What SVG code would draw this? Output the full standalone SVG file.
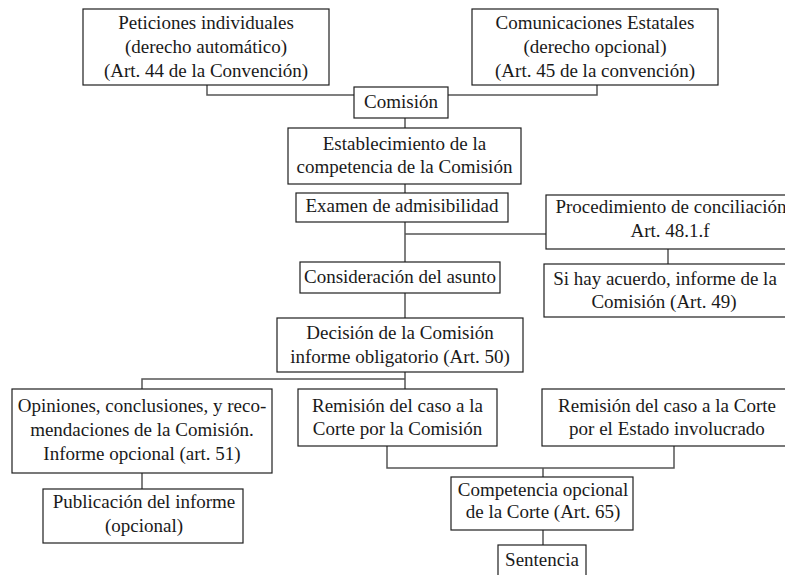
<svg xmlns="http://www.w3.org/2000/svg" width="785" height="575" viewBox="0 0 785 575" font-family="Liberation Serif, serif">
<style>
.box{fill:#fff;stroke:#1e1e1e;stroke-width:1.2}
text{font-family:'Liberation Serif',serif;font-size:19px;fill:#1a1a1a;text-anchor:middle}
.c{fill:none;stroke:#555;stroke-width:1.5}
</style>
<rect width="785" height="575" fill="#fff"/>
<g id="connectors">
<polyline class="c" points="207,85 207,95 354,95"/>
<polyline class="c" points="597,85 597,95 448,95"/>
<line class="c" x1="405" y1="118" x2="405" y2="128"/>
<line class="c" x1="405" y1="184" x2="405" y2="193"/>
<line class="c" x1="405" y1="222" x2="405" y2="262"/>
<line class="c" x1="405" y1="234" x2="546" y2="234"/>
<line class="c" x1="668" y1="249" x2="668" y2="264"/>
<line class="c" x1="405" y1="293" x2="405" y2="318"/>
<line class="c" x1="405" y1="372" x2="405" y2="389"/>
<polyline class="c" points="142,389 142,379 405,379"/>
<line class="c" x1="142" y1="473" x2="142" y2="489"/>
<polyline class="c" points="387,446 387,468 674,468 674,446"/>
<line class="c" x1="543" y1="468" x2="543" y2="477"/>
<line class="c" x1="543" y1="530" x2="543" y2="545"/>
</g>
<g id="peticiones">
<rect class="box" x="83" y="9" width="246" height="76"/>
<text x="206" y="29">Peticiones individuales</text>
<text x="206" y="53">(derecho automático)</text>
<text x="206" y="77">(Art. 44 de la Convención)</text>
</g>
<g id="comunicaciones">
<rect class="box" x="472" y="9" width="246" height="76"/>
<text x="595" y="29">Comunicaciones Estatales</text>
<text x="595" y="53">(derecho opcional)</text>
<text x="595" y="77">(Art. 45 de la convención)</text>
</g>
<g id="comision">
<rect class="box" x="354" y="87" width="94" height="31"/>
<text x="401" y="108">Comisión</text>
</g>
<g id="establecimiento">
<rect class="box" x="288" y="128" width="233" height="56"/>
<text x="404.5" y="150">Establecimiento de la</text>
<text x="404.5" y="173">competencia de la Comisión</text>
</g>
<g id="examen">
<rect class="box" x="296" y="193" width="212" height="29"/>
<text x="402" y="212">Examen de admisibilidad</text>
</g>
<g id="conciliacion">
<rect class="box" x="546" y="195" width="260" height="54"/>
<text x="671" y="213">Procedimiento de conciliación</text>
<text x="670" y="237">Art. 48.1.f</text>
</g>
<g id="acuerdo">
<rect class="box" x="544" y="264" width="262" height="53"/>
<text x="665" y="285">Si hay acuerdo, informe de la</text>
<text x="664" y="308">Comisión  (Art. 49)</text>
</g>
<g id="consideracion">
<rect class="box" x="300" y="262" width="200" height="31"/>
<text x="400" y="283">Consideración del asunto</text>
</g>
<g id="decision">
<rect class="box" x="277" y="318" width="246" height="54"/>
<text x="400" y="339">Decisión de la Comisión</text>
<text x="400" y="363">informe obligatorio (Art. 50)</text>
</g>
<g id="opiniones">
<rect class="box" x="12" y="389" width="260" height="84"/>
<text x="142" y="412">Opiniones, conclusiones, y reco-</text>
<text x="142" y="436">mendaciones de la Comisión.</text>
<text x="142" y="460">Informe opcional (art. 51)</text>
</g>
<g id="publicacion">
<rect class="box" x="43" y="489" width="200" height="54"/>
<text x="144" y="508">Publicación del informe</text>
<text x="144" y="532">(opcional)</text>
</g>
<g id="remision-comision">
<rect class="box" x="298" y="389" width="199" height="57"/>
<text x="397.5" y="412">Remisión del caso a la</text>
<text x="397.5" y="435">Corte por la Comisión</text>
</g>
<g id="remision-estado">
<rect class="box" x="542" y="389" width="262" height="57"/>
<text x="667" y="412">Remisión del caso a la Corte</text>
<text x="667" y="435">por el Estado involucrado</text>
</g>
<g id="competencia">
<rect class="box" x="451" y="477" width="182" height="53"/>
<text x="543" y="496">Competencia opcional</text>
<text x="543" y="518">de la Corte (Art. 65)</text>
</g>
<g id="sentencia">
<rect class="box" x="498" y="545" width="88" height="40"/>
<text x="542" y="566">Sentencia</text>
</g>
</svg>
